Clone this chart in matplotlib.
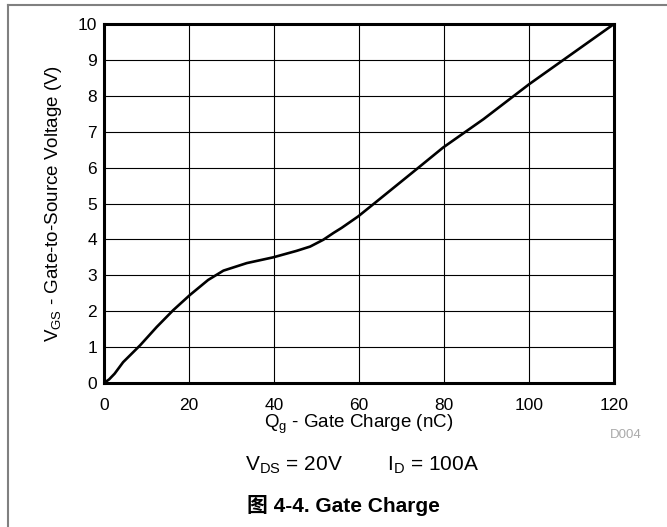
import matplotlib.pyplot as plt
from matplotlib.lines import Line2D

# Gate charge curve
gate_charge_nc = [0, 1.2, 2.5, 4.5, 8.5, 12.4, 16.3, 20.2, 24.5, 28.1, 33.6,
                  39.8, 45.3, 48.5, 51.6, 54.0, 55.9, 59.8, 64.2, 74.0, 79.8,
                  89.3, 100, 110, 120]
vgs_volts = [0, 0.1, 0.26, 0.58, 1.05, 1.56, 2.03, 2.45, 2.87, 3.13, 3.34,
             3.5, 3.68, 3.8, 3.99, 4.18, 4.32, 4.64, 5.06, 6.0, 6.56,
             7.35, 8.32, 9.16, 10]

x_ticks = [0, 20, 40, 60, 80, 100, 120]
y_ticks = list(range(0, 11))

plt.rcParams['font.family'] = ['Liberation Sans', 'Noto Sans CJK SC']

fig = plt.figure(figsize=(6.67, 5.27), dpi=100)
W, H = 667, 527
ax = fig.add_axes([104 / W, 1 - 383 / H, 510 / W, 359 / H])

ax.plot(gate_charge_nc, vgs_volts, color='black', linewidth=1.9,
        solid_joinstyle='round', zorder=3)

ax.set_xlim(0, 120)
ax.set_ylim(0, 10)
ax.set_xticks(x_ticks)
ax.set_yticks(y_ticks)
ax.grid(True, color='black', linewidth=0.8)
ax.tick_params(length=0, labelsize=12.5, colors='black')
ax.tick_params(axis='x', pad=10.5)
ax.tick_params(axis='y', pad=5)
for s in ax.spines.values():
    s.set_linewidth(2.2)

ax.set_ylabel('V$_{\\mathregular{GS}}$ - Gate-to-Source Voltage (V)', fontsize=13.5)
ax.yaxis.set_label_coords(-0.078, 0.5)

fig.text(359 / W, 1 - 424 / H, 'Q$_{\\mathregular{g}}$ - Gate Charge (nC)',
         ha='center', va='center', fontsize=13.5)
fig.text(626 / W, 1 - 435 / H, 'D004', ha='center', va='center',
         fontsize=9.5, color='#aaaaaa')
fig.text(362 / W, 1 - 465 / H,
         'V$_{\\mathregular{DS}}$ = 20V        I$_{\\mathregular{D}}$ = 100A',
         ha='center', va='center', fontsize=15)
fig.text(343 / W, 1 - 506 / H, '图 4-4. Gate Charge', ha='center', va='center',
         fontsize=15, fontweight='bold')

# grey page frame (left and top edges)
fig.add_artist(Line2D([8 / W, 8 / W], [0, 1 - 5 / H], color='#808080',
                      linewidth=1.5, transform=fig.transFigure))
fig.add_artist(Line2D([8 / W, 1], [1 - 5 / H, 1 - 5 / H], color='#808080',
                      linewidth=1.5, transform=fig.transFigure))

plt.savefig('out.png', dpi=100)
